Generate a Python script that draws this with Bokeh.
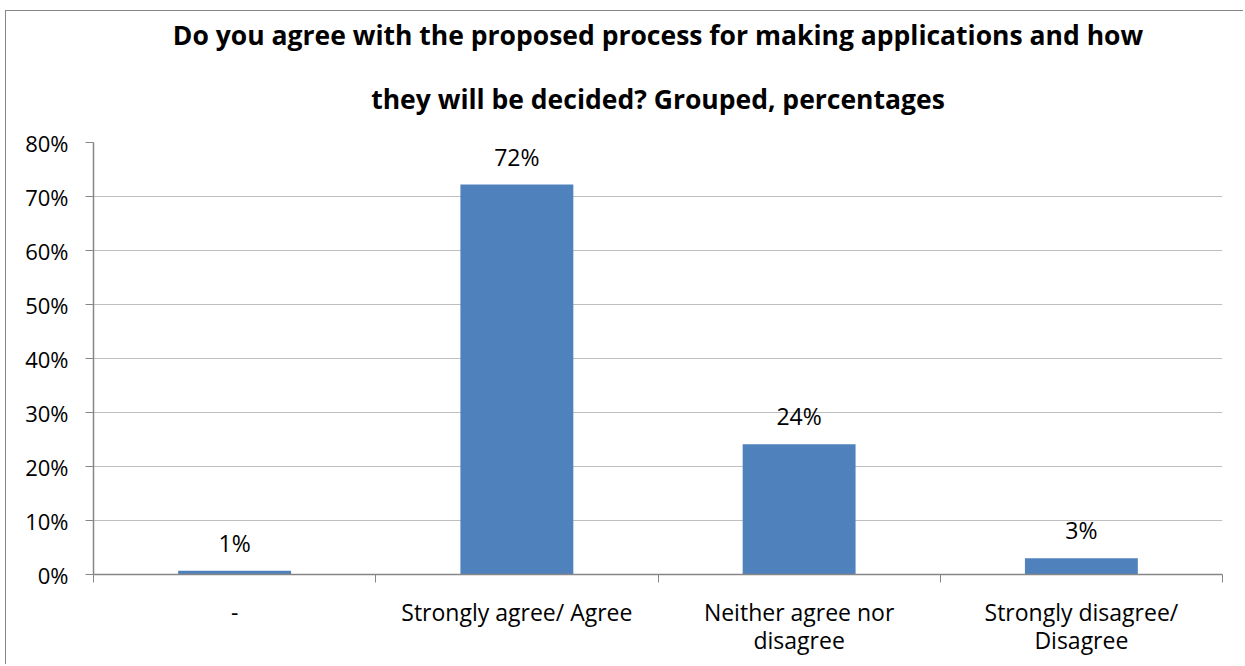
from bokeh.plotting import figure
from bokeh.models import ColumnDataSource, FixedTicker, Range1d, Title
from bokeh.embed import file_html
from bokeh.resources import INLINE
from bokeh.core.properties import value

categories = ["-", "Strongly agree/ Agree", "Neither agree nor\ndisagree", "Strongly disagree/\nDisagree"]
percentages = [0.7, 72.2, 24.1, 3.0]
bar_labels = ["1%", "72%", "24%", "3%"]
y_ticks = [0, 10, 20, 30, 40, 50, 60, 70, 80]
y_tick_labels = ["0%", "10%", "20%", "30%", "40%", "50%", "60%", "70%", "80%"]
title_lines = ["Do you agree with the proposed process for making applications and how",
               "they will be decided? Grouped, percentages"]

FONT = "Open Sans"
positions = [i + 0.5 for i in range(len(categories))]
src = ColumnDataSource(dict(x=positions, top=percentages, label=bar_labels))

p = figure(width=1238, height=654, output_backend="svg", toolbar_location=None,
           x_range=Range1d(0, len(categories)), y_range=Range1d(0, 80),
           min_border_left=87, min_border_right=22, min_border_top=131, min_border_bottom=91,
           title=None)

for line, so in zip(reversed(title_lines), [52, 0]):
    t = Title(text=line, align="center", offset=-30, text_font=FONT, text_font_size="26.5px",
              text_font_style="bold", text_color="black", standoff=so)
    p.add_layout(t, "above")

p.vbar(x="x", top="top", width=0.4, source=src, fill_color="#4F81BD", line_color=None)
p.text(x="x", y="top", text="label", source=src, text_align="center", text_baseline="bottom",
       y_offset=-12, text_font=value(FONT), text_font_size="23px", text_color="black")

p.outline_line_color = None
p.xgrid.grid_line_color = None
p.ygrid.grid_line_color = "#BFBFBF"
p.ygrid.grid_line_width = 1

p.yaxis.ticker = FixedTicker(ticks=y_ticks)
p.yaxis.major_label_overrides = {t: l for t, l in zip(y_ticks, y_tick_labels)}
p.yaxis.major_tick_in = 0
p.yaxis.major_tick_out = 8
p.yaxis.major_label_standoff = 17

p.xaxis.ticker = FixedTicker(ticks=positions, minor_ticks=list(range(len(categories) + 1)))
p.xaxis.major_label_overrides = {pos: c for pos, c in zip(positions, categories)}
p.xaxis.major_tick_in = 0
p.xaxis.major_tick_out = 0
p.xaxis.minor_tick_in = 0
p.xaxis.minor_tick_out = 8
p.xaxis.major_label_standoff = 13
p.xaxis.major_label_text_line_height = 0.9

for ax in (p.xaxis, p.yaxis):
    ax.axis_line_color = "#868686"
    ax.axis_line_width = 1.5
    ax.major_tick_line_color = "#868686"
    ax.minor_tick_line_color = "#868686"
    ax.major_label_text_font = FONT
    ax.major_label_text_color = "black"
p.xaxis.major_label_text_font_size = "23px"
p.yaxis.major_label_text_font_size = "22px"
p.yaxis.minor_tick_line_color = None

p.styles = {"border-top": "1px solid #868686", "border-left": "1px solid #868686",
            "margin-left": "5px", "margin-top": "10px"}

open("out.html", "w").write(file_html(p, INLINE))
